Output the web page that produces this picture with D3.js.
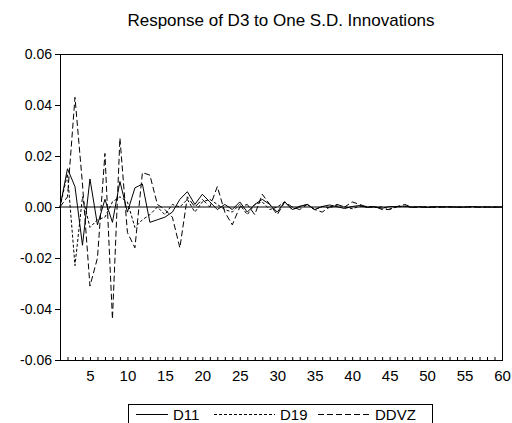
<!DOCTYPE html>
<html>
<head>
<meta charset="utf-8">
<script src="https://cdn.jsdelivr.net/npm/d3@7"></script>
<style>
	body { margin: 0; background: #fff; }
	svg text { font-family: "Liberation Sans", Arial, sans-serif; fill: #000; }
</style>
</head>
<body>
<svg id="chart" width="512" height="423"></svg>
<script>
// impulse responses, periods 1..60
var periods = d3.range(1, 61);

var d11 = [0, 0.015, 0.008, -0.015, 0.011, -0.007, 0.003, -0.006, 0.010, -0.002,
	0.0075, 0.009, -0.006, -0.005, -0.004, -0.002, 0.003, 0.006, 0.001, 0.005,
	0.002, -0.001, 0.001, -0.001, 0.002, -0.002, 0.001, 0.003, 0.001, -0.002,
	0.002, -0.001, 0.0003, 0.001, -0.001, 0.0002, 0.0008, 0.0001, -0.0006, 0.0002,
	0.0006, -0.0002, 0.0001, -0.0005, 0.0002, 0.0001, 0.0004, -0.0001, 0.0001, -0.0002,
	0.0002, -0.0001, 0.0001, 0.0000, -0.0001, 0.0001, 0.0000, 0.0000, -0.0001, 0.0000];

var d19 = [0, 0.013, -0.023, 0.004, -0.008, -0.005, -0.004, 0.002, 0.004, 0.002,
	-0.008, -0.005, -0.003, 0.000, -0.003, 0.001, 0.000, 0.003, -0.002, 0.002,
	0.003, 0.001, -0.001, -0.002, 0.001, -0.003, 0.001, 0.002, -0.001, 0.000,
	0.002, -0.001, 0.000, 0.001, -0.001, 0.0002, -0.0003, 0.0008, 0.0001, -0.0007,
	0.0003, 0.0002, -0.0002, 0.0001, -0.0008, 0.0001, 0.0002, -0.0001, 0.0001, 0.0000,
	-0.0001, 0.0001, 0.0000, -0.0001, 0.0000, 0.0001, 0.0000, 0.0000, 0.0000, 0.0000];

var ddvz = [0, 0.004, 0.043, 0.009, -0.031, -0.020, 0.021, -0.044, 0.027, -0.010,
	-0.016, 0.0135, 0.0125, 0.001, -0.001, -0.004, -0.016, 0.004, 0.000, 0.003,
	0.000, 0.008, -0.002, -0.007, 0.000, 0.001, -0.003, 0.005, 0.001, -0.003,
	0.002, 0.000, -0.001, 0.001, -0.001, -0.002, 0.000, 0.001, 0.000, 0.002,
	0.001, 0.000, 0.0002, -0.001, -0.001, 0.0002, 0.001, 0.000, -0.0002, 0.0001,
	-0.0002, 0.0001, 0.0000, -0.0001, 0.0001, 0.0000, -0.0001, 0.0000, 0.0000, 0.0000];

var yTicks = [-0.06, -0.04, -0.02, 0.00, 0.02, 0.04, 0.06];
var xTickLabels = [5, 10, 15, 20, 25, 30, 35, 40, 45, 50, 55, 60];

var series = [
	{name: "D11", values: d11, dash: null},
	{name: "D19", values: d19, dash: "3,2"},
	{name: "DDVZ", values: ddvz, dash: "6,3"}
];

var svg = d3.select("#chart");
var plot = {left: 60, right: 502, top: 54, bottom: 360};

var xscale = d3.scaleLinear().domain([1, 60]).range([plot.left, plot.right]),
	yscale = d3.scaleLinear().domain([-0.06, 0.06]).range([plot.bottom, plot.top]);

svg.append("text")
	.attr("x", (plot.left + plot.right)/2)
	.attr("y", 26)
	.attr("text-anchor", "middle")
	.style("font-size", "17px")
	.text("Response of D3 to One S.D. Innovations");

// y axis, ticks pointing out; plain hyphen for the sign like the original
var yaxis = d3.axisLeft(yscale)
	.tickValues(yTicks)
	.tickSize(5)
	.tickPadding(3)
	.tickFormat(function (d) {
		return (d < 0 ? "-" : "") + Math.abs(d).toFixed(2);
	});
var yg = svg.append("g").attr("transform", "translate(" + plot.left + ",0)").call(yaxis);
yg.select(".domain").remove();
yg.selectAll("line").attr("stroke", "#000");
yg.selectAll("text").style("font-size", "14px").attr("fill", "#000");

// x axis: minor ticks inside at every period, labels every 5
var xaxis = d3.axisBottom(xscale)
	.tickValues(periods)
	.tickSize(-3)
	.tickPadding(10)
	.tickFormat(function (d) {
		return xTickLabels.indexOf(d) >= 0 ? d : "";
	});
var xg = svg.append("g").attr("transform", "translate(0," + plot.bottom + ")").call(xaxis);
xg.select(".domain").remove();
xg.selectAll("line").attr("stroke", "#000");
xg.selectAll("text").style("font-size", "15px").attr("fill", "#000");

// zero line
svg.append("line")
	.attr("x1", plot.left).attr("x2", plot.right)
	.attr("y1", yscale(0)).attr("y2", yscale(0))
	.attr("stroke", "#000").attr("stroke-width", 1);

var line = d3.line()
	.x(function (d, i) { return xscale(periods[i]); })
	.y(function (d) { return yscale(d); });

series.forEach(function (s) {
	svg.append("path")
		.datum(s.values)
		.attr("d", line)
		.attr("fill", "none")
		.attr("stroke", "#000")
		.attr("stroke-width", 1)
		.attr("stroke-dasharray", s.dash);
});

// frame
svg.append("rect")
	.attr("x", plot.left + 0.5).attr("y", plot.top + 0.5)
	.attr("width", plot.right - plot.left).attr("height", plot.bottom - plot.top)
	.attr("fill", "none").attr("stroke", "#000");

// legend
var legend = svg.append("g");
legend.append("rect")
	.attr("x", 128.5).attr("y", 404.5)
	.attr("width", 304).attr("height", 24)
	.attr("fill", "none").attr("stroke", "#000");

var legendPos = [
	{x1: 136, x2: 168, tx: 173},
	{x1: 214, x2: 275, tx: 280},
	{x1: 318, x2: 370, tx: 375}
];
series.forEach(function (s, i) {
	var p = legendPos[i];
	legend.append("line")
		.attr("x1", p.x1).attr("x2", p.x2)
		.attr("y1", 414.5).attr("y2", 414.5)
		.attr("stroke", "#000")
		.attr("stroke-dasharray", s.dash);
	legend.append("text")
		.attr("x", p.tx).attr("y", 420)
		.style("font-size", "15px")
		.text(s.name);
});
</script>
</body>
</html>
